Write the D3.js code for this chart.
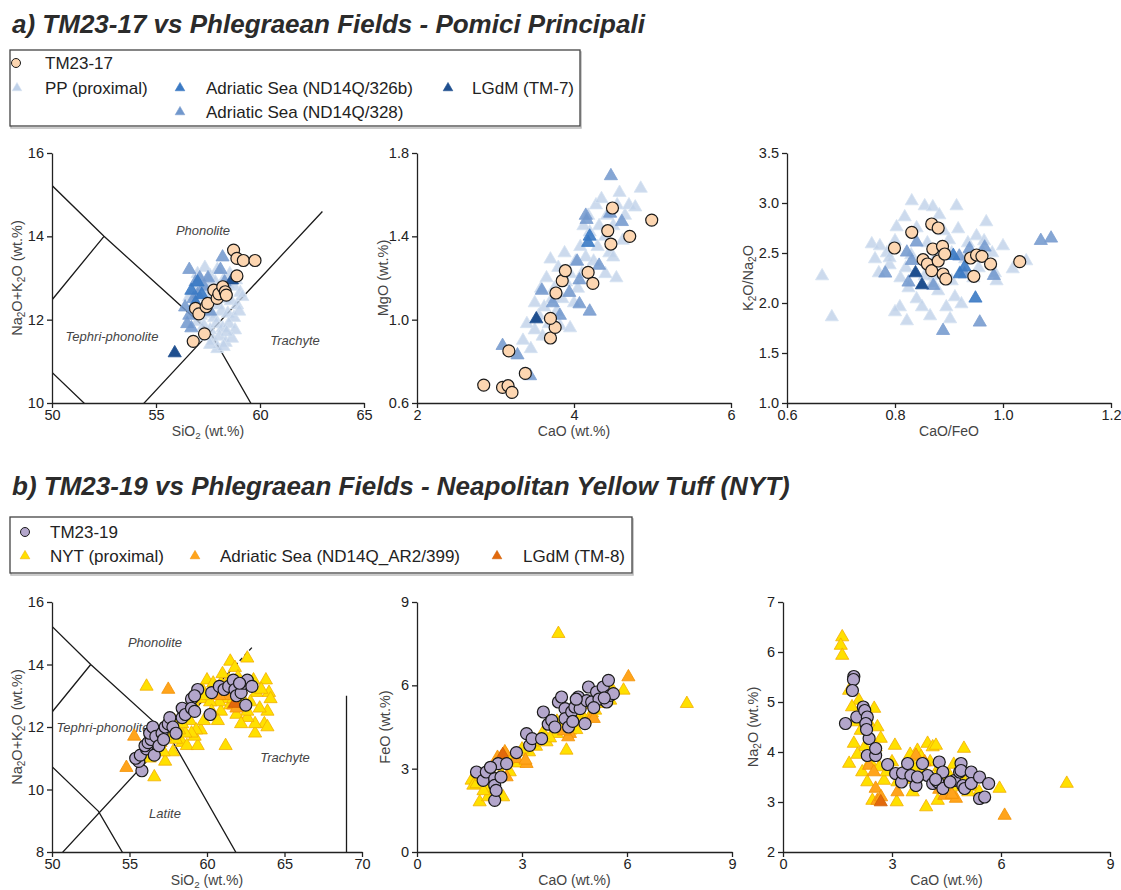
<!DOCTYPE html>
<html>
<head>
<meta charset="utf-8">
<script src="https://cdn.jsdelivr.net/npm/d3@7"></script>
<style>
  body { margin: 0; background: #fff; }
  text { font-family: "Liberation Sans", Arial, sans-serif; }
</style>
</head>
<body>
<script>
// ---- data: panel a (TM23-17 vs Pomici Principali) ----
// [SiO2, Na2O+K2O]
const a1_TM2317 = [[58.73,13.67],[58.89,13.47],[59.2,13.42],[59.76,13.42],[58.89,13.05],[56.9,12.27],[57.06,12.14],[57.41,12.31],[57.49,12.39],[57.78,12.71],[57.94,12.51],[58.02,12.62],[58.21,12.79],[58.33,12.67],[58.38,12.59],[57.33,11.66],[56.79,11.48]];
const a1_PP = [[57.0,13.1],[57.35,13.25],[57.6,13.05],[57.95,13.2],[58.25,12.95],[58.55,13.1],[57.2,12.85],[57.5,12.75],[57.85,12.9],[58.1,12.75],[58.45,12.85],[58.75,12.8],[59.05,12.65],[56.8,12.7],[57.1,12.55],[57.45,12.6],[57.7,12.45],[58.0,12.35],[58.3,12.5],[58.6,12.45],[58.9,12.35],[59.15,12.55],[56.9,12.4],[57.25,12.25],[57.55,12.15],[57.8,12.05],[58.15,12.2],[58.45,12.15],[58.75,12.05],[59.0,12.2],[57.0,11.95],[57.3,11.85],[57.6,11.75],[57.9,11.9],[58.2,11.8],[58.5,11.9],[58.8,11.75],[57.4,11.6],[57.75,11.5],[58.05,11.6],[58.35,11.45],[58.65,11.55],[57.95,11.3],[58.25,11.35],[57.6,11.4],[58.85,12.95],[56.6,12.55],[57.55,12.95],[58.4,11.7],[57.15,12.1]];
const a1_AS328 = [[56.6,13.2],[56.9,12.9],[57.1,13.0],[57.3,12.8],[57.5,13.0],[58.2,13.5],[58.1,13.2],[56.4,12.3],[56.5,11.9],[56.7,11.8],[56.8,12.5],[57.0,12.6],[57.6,12.2],[58.3,12.9],[56.6,12.1]];
const a1_AS326b = [[56.7,12.7],[57.2,12.6],[57.0,12.9],[56.9,12.4]];
const a1_TM7 = [[55.9,11.2],[58.65,12.95]];

// [CaO, MgO]
const a2_TM2317 = [[2.85,0.686],[3.09,0.675],[3.16,0.683],[3.21,0.651],[3.17,0.85],[3.38,0.742],[3.70,0.912],[3.76,0.963],[3.70,1.006],[3.77,1.128],[3.85,1.187],[3.89,1.235],[4.18,1.227],[4.24,1.174],[4.47,1.363],[4.43,1.427],[4.49,1.536],[4.71,1.40],[4.99,1.478]];
const a2_PP = [[3.35,0.90],[3.45,0.86],[3.50,0.95],[3.40,0.98],[3.55,1.02],[3.60,0.92],[3.62,1.06],[3.68,0.98],[3.72,1.10],[3.58,1.15],[3.65,1.20],[3.70,1.29],[3.78,1.04],[3.82,0.97],[3.95,0.96],[3.85,1.10],[3.90,1.18],[3.80,1.25],[3.88,1.32],[3.95,1.22],[4.00,1.08],[4.05,1.15],[4.02,1.28],[4.10,1.22],[4.08,1.35],[4.15,1.30],[4.20,1.42],[4.18,1.50],[4.25,1.28],[4.30,1.35],[4.32,1.45],[4.28,1.55],[4.35,1.58],[4.40,1.40],[4.45,1.32],[4.42,1.50],[4.50,1.45],[4.55,1.55],[4.58,1.61],[4.62,1.38],[4.65,1.50],[4.70,1.55],[4.78,1.54],[4.85,1.63],[4.54,1.20],[4.40,1.22],[4.50,1.30],[3.50,1.08],[3.75,1.15],[4.12,1.45]];
const a2_AS328 = [[3.09,0.875],[3.28,0.83],[3.44,0.73],[3.59,1.14],[3.73,1.08],[3.94,1.13],[4.04,1.28],[4.07,1.19],[4.15,1.50],[4.16,1.48],[4.20,1.04],[4.32,1.26],[4.47,1.69],[4.61,1.47],[4.46,1.51],[4.07,1.075],[3.82,1.02]];
const a2_AS326b = [[4.20,1.40],[4.18,1.37]];
const a2_TM7 = [[3.52,1.003]];

// [CaO/FeO, K2O/Na2O]
const a3_TM2317 = [[0.799,2.55],[0.831,2.707],[0.868,2.79],[0.880,2.75],[0.852,2.433],[0.86,2.39],[0.868,2.323],[0.87,2.54],[0.88,2.42],[0.888,2.567],[0.892,2.49],[0.889,2.29],[0.894,2.24],[0.94,2.45],[0.951,2.48],[0.961,2.467],[0.946,2.267],[0.977,2.39],[1.031,2.413]];
const a3_PP = [[0.665,2.27],[0.683,1.86],[0.757,2.59],[0.772,2.57],[0.763,2.44],[0.785,2.50],[0.79,2.38],[0.80,2.62],[0.803,2.76],[0.818,2.86],[0.831,3.02],[0.855,2.97],[0.870,2.96],[0.882,2.88],[0.914,2.97],[0.917,2.74],[0.951,2.67],[0.969,2.81],[0.965,2.62],[1.000,2.57],[1.043,2.42],[1.018,2.34],[0.988,2.22],[0.809,1.96],[0.822,1.82],[0.865,1.87],[0.895,1.96],[0.902,1.84],[0.911,2.06],[0.923,1.99],[0.840,2.04],[0.855,2.27],[0.92,2.30],[0.82,2.35],[0.86,2.60],[0.90,2.63],[0.935,2.60],[0.81,2.25],[0.79,2.45],[0.87,2.27],[0.88,2.12],[0.93,2.44],[0.955,2.35],[0.98,2.50],[0.84,2.75],[0.89,2.72],[0.83,2.48],[0.875,2.45],[0.905,2.50],[0.945,2.25],[0.96,2.52],[0.985,2.30],[0.80,1.91],[0.85,1.96],[0.87,2.20],[0.77,2.30],[0.825,2.15],[0.905,2.22]];
const a3_AS328 = [[0.782,2.297],[0.822,2.507],[0.84,2.607],[0.831,2.423],[0.825,2.207],[0.871,2.173],[0.889,1.723],[0.919,2.467],[0.938,2.54],[0.957,1.807],[0.983,2.273],[1.07,2.623],[1.089,2.647],[0.929,2.29],[0.966,2.557]];
const a3_AS326b = [[0.908,2.473],[0.92,2.29],[0.929,2.357],[0.949,2.047]];
const a3_TM7 = [[0.838,2.30],[0.850,2.18]];

// ---- data: panel b (TM23-19 vs NYT) ----
const b1_TM2319 = [[55.8,10.6],[55.6,10.9],[55.4,11.0],[55.7,11.1],[56.1,11.3],[56.6,11.1],[56.0,11.4],[56.2,11.5],[56.4,11.6],[56.3,11.8],[56.5,12.0],[56.7,11.7],[56.9,11.4],[57.1,11.8],[57.2,11.6],[57.3,12.0],[57.5,12.1],[57.6,12.3],[57.8,12.0],[58.0,11.8],[58.4,12.3],[58.4,12.6],[58.6,12.4],[59.0,12.9],[59.0,12.6],[59.2,12.5],[59.4,13.2],[59.2,13.0],[60.2,12.4],[60.3,13.1],[60.8,13.3],[61.1,13.2],[61.4,13.3],[61.7,13.5],[61.8,13.2],[61.9,13.0],[62.2,13.1],[62.4,13.4],[62.6,13.5],[62.9,13.3],[62.5,12.7],[62.1,13.4]];
const b1_NYT = [[56.6,10.4],[56.1,13.3],[57.3,10.9],[57.8,11.2],[58.4,11.5],[58.7,11.4],[59.4,11.4],[59.2,11.7],[59.6,11.9],[59.8,12.2],[59.7,13.2],[60.0,13.5],[60.4,13.4],[60.9,13.4],[61.5,14.1],[61.8,13.9],[62.6,14.2],[63.0,13.5],[63.2,13.1],[63.8,13.5],[64.0,13.1],[64.1,12.9],[63.9,12.5],[63.7,12.1],[63.9,12.0],[63.1,11.8],[63.1,12.1],[62.6,12.3],[62.6,12.5],[61.9,12.4],[61.5,12.7],[61.1,12.9],[60.9,12.5],[60.7,12.2],[61.2,11.4],[60.4,13.1],[60.8,12.8],[62.3,12.9],[59.6,12.9],[58.9,12.2],[59.3,11.9],[59.0,11.8],[58.6,11.8],[58.2,11.9],[57.9,12.2],[58.4,12.1],[57.5,11.7],[57.0,11.5],[56.8,11.2],[56.3,11.0],[57.2,11.2],[58.0,11.6],[58.8,12.5],[60.2,12.8],[61.4,13.5],[62.0,13.6],[62.8,12.8],[63.4,12.6],[62.2,12.1],[60.3,12.5],[59.9,13.0],[61.7,12.9],[63.5,13.2],[59.1,12.8],[61.0,13.7]];
const b1_AS399 = [[54.8,10.7],[55.3,11.7],[57.5,13.2],[61.7,12.7],[61.9,12.6],[61.4,13.0],[60.8,13.0],[62.2,13.2]];
const b1_TM8 = [[61.8,12.75]];

// [CaO, FeO]
const b2_TM2319 = [[1.70,2.88],[1.89,2.58],[1.98,2.88],[2.22,2.64],[2.22,2.40],[2.22,1.86],[2.32,3.18],[2.56,3.18],[2.40,2.70],[2.26,2.22],[2.10,3.05],[2.84,3.58],[3.13,4.26],[3.22,3.84],[3.29,4.08],[3.56,4.08],[3.61,5.04],[3.75,4.60],[3.85,4.74],[3.94,4.50],[4.04,5.40],[4.13,5.58],[4.23,5.16],[4.23,4.80],[4.33,4.50],[4.42,5.05],[4.51,5.22],[4.61,5.58],[4.66,5.16],[4.80,4.62],[4.85,5.45],[4.90,5.94],[4.99,5.40],[5.13,5.76],[5.20,5.50],[5.32,5.94],[5.47,6.18],[5.42,5.40],[5.52,5.64],[5.61,5.70],[5.35,5.55],[5.05,5.20],[4.45,4.70],[4.55,5.50]];
const b2_NYT = [[4.04,7.86],[7.71,5.34],[5.90,5.82],[4.27,3.66],[1.79,1.80],[2.03,1.98],[2.46,1.98],[1.56,2.58],[1.61,2.40],[1.70,2.45],[1.85,2.70],[2.10,2.90],[2.30,3.10],[2.65,2.88],[2.84,3.30],[3.08,3.24],[3.20,3.60],[3.40,3.80],[3.51,4.02],[3.70,3.96],[3.99,4.26],[4.10,4.50],[4.37,4.38],[4.50,4.70],[4.70,4.90],[4.94,4.86],[5.09,5.10],[5.32,5.34],[5.52,5.46],[5.60,5.80],[5.40,5.65],[5.20,5.50],[4.80,5.30],[4.60,5.00],[4.40,4.95],[4.20,4.85],[3.90,4.55],[3.60,4.30],[3.00,3.70],[2.70,3.40],[2.50,3.20],[2.40,2.80],[2.20,2.60],[2.00,2.30],[1.90,2.20],[3.30,3.95],[4.00,4.70],[4.80,4.75],[5.00,5.00],[5.50,5.90],[2.55,3.50],[2.90,3.20],[3.80,4.10],[4.55,4.40]];
const b2_AS399 = [[6.04,6.30],[2.41,3.42],[2.51,3.60],[4.37,4.26],[4.32,4.14],[2.84,3.36],[3.13,3.18],[4.99,4.86],[5.05,4.80],[2.56,2.70],[3.10,3.30],[4.20,4.35],[2.30,3.40]];
const b2_TM8 = [[2.45,3.50]];

// [CaO, Na2O]
const b3_TM2319 = [[1.95,5.51],[1.94,5.45],[1.91,5.23],[1.72,4.57],[2.03,4.70],[2.21,4.90],[2.25,4.83],[2.32,4.70],[2.28,4.57],[2.37,4.27],[2.32,3.93],[2.55,3.93],[2.55,4.07],[2.30,4.45],[2.88,3.75],[3.10,3.57],[3.26,3.40],[3.29,3.58],[3.43,3.77],[3.52,3.53],[3.66,3.33],[3.84,3.77],[3.98,3.53],[4.12,3.37],[4.26,3.40],[4.30,3.80],[4.40,3.60],[4.40,3.27],[4.72,3.43],[4.86,3.60],[4.90,3.77],[4.90,3.63],[4.95,3.33],[5.00,3.27],[5.18,3.60],[5.18,3.37],[5.41,3.50],[5.41,3.07],[5.55,3.10],[5.66,3.37],[4.60,3.40],[4.20,3.45],[3.70,3.50]];
const b3_NYT = [[1.63,6.30],[1.59,6.13],[1.63,5.93],[1.82,5.23],[1.82,3.77],[1.95,4.17],[2.09,5.03],[2.14,4.43],[2.18,3.60],[2.32,3.40],[2.46,3.03],[2.51,4.87],[2.60,4.50],[2.69,4.27],[2.78,3.43],[3.08,4.13],[3.13,3.00],[3.15,3.40],[3.57,3.20],[3.70,4.03],[3.94,2.90],[3.98,4.17],[4.12,4.10],[4.21,4.13],[4.26,3.03],[4.58,3.53],[4.98,4.07],[5.96,3.27],[7.81,3.37],[2.00,4.60],[2.25,4.10],[2.40,3.80],[2.55,4.10],[2.65,3.70],[2.85,3.60],[3.00,3.80],[3.30,3.60],[3.45,3.45],[3.60,3.70],[3.80,3.90],[3.90,3.60],[4.05,3.80],[4.30,3.70],[4.45,3.40],[4.65,3.30],[4.80,3.50],[5.00,3.40],[5.20,3.30],[5.40,3.20],[1.90,4.90],[2.05,3.95],[2.35,4.60],[3.50,3.95],[4.20,3.50],[4.70,3.75],[5.10,3.20]];
const b3_AS399 = [[6.10,2.73],[2.55,3.27],[2.60,3.03],[3.15,3.20],[2.37,3.73],[4.44,3.13],[4.76,3.07],[3.66,3.93],[2.70,3.10],[4.65,3.15],[3.90,3.80],[4.30,3.25],[2.50,3.60]];
const b3_TM8 = [[2.69,3.00]];

// TAS classification lines (Le Bas et al. 1986)
const tasLines = [
  [[48.4,16],[52.5,14],[57.6,11.7],[63,7]],
  [[52.5,14],[48.4,11.5],[53,9.3],[57,5.9]],
  [[69,8],[69,13]]
];

// ---- styles ----
const sty = {
  TM2317: {fill:"#fdd6b1", stroke:"#1a1a1a"},
  PP:     {fill:"#bfd1e9", stroke:"#d6e2f1", op:0.8},
  AS326b: {fill:"#3b7ac4", stroke:"#3b7ac4", op:0.9},
  AS328:  {fill:"#7097cc", stroke:"#7f9fd0", op:0.85},
  TM7:    {fill:"#1f4f8f", stroke:"#1f4f8f"},
  TM2319: {fill:"#b3a6cb", stroke:"#1a1a1a"},
  NYT:    {fill:"#ffe000", stroke:"#f3ad00"},
  AS399:  {fill:"#ffa41c", stroke:"#f39000"},
  TM8:    {fill:"#e2690c", stroke:"#d05e00"}
};

const svg = d3.select("body").append("svg")
  .attr("width", 1121).attr("height", 890);

const tri = d3.symbol().type(d3.symbolTriangle);

function richText(sel, parts, fs) {
  let shift = 0;
  parts.forEach(p => {
    const t = sel.append("tspan").text(p[0]);
    if (p[1]) { t.attr("font-size", fs * 0.7).attr("dy", fs * 0.22 - shift); shift = fs * 0.22; }
    else { if (shift) t.attr("dy", -shift); shift = 0; }
  });
}

const panels = [
  {id:"a1", px:[52,364], py:[403,153], xd:[50,65], yd:[10,16], xt:[50,55,60,65], yt:[10,12,14,16], fmt:d3.format("d"), yfmt:d3.format("d"),
   xl:[["SiO"],["2",1],[" (wt.%)"]], yl:[["Na"],["2",1],["O+K"],["2",1],["O (wt.%)"]], ylx:22, tas:true, tasEnd:63,
   labels:[["Phonolite",203,230],["Tephri-phonolite",112,336],["Trachyte",295,340]],
   layers:[[a1_PP,"PP"],[a1_AS328,"AS328"],[a1_AS326b,"AS326b"],[a1_TM7,"TM7"],[a1_TM2317,"TM2317",1]]},
  {id:"a2", px:[417,731], py:[403,153], xd:[2,6], yd:[0.6,1.8], xt:[2,4,6], yt:[0.6,1.0,1.4,1.8], fmt:d3.format("d"), yfmt:d3.format(".1f"),
   xl:[["CaO (wt.%)"]], yl:[["MgO (wt.%)"]], ylx:388,
   layers:[[a2_PP,"PP"],[a2_AS328,"AS328"],[a2_AS326b,"AS326b"],[a2_TM7,"TM7"],[a2_TM2317,"TM2317",1]]},
  {id:"a3", px:[787,1111], py:[403,153], xd:[0.6,1.2], yd:[1.0,3.5], xt:[0.6,0.8,1.0,1.2], yt:[1.0,1.5,2.0,2.5,3.0,3.5], fmt:d3.format(".1f"), yfmt:d3.format(".1f"),
   xl:[["CaO/FeO"]], yl:[["K"],["2",1],["O/Na"],["2",1],["O"]], ylx:753,
   layers:[[a3_PP,"PP"],[a3_AS328,"AS328"],[a3_AS326b,"AS326b"],[a3_TM7,"TM7"],[a3_TM2317,"TM2317",1]]},
  {id:"b1", px:[52,362], py:[852,602], xd:[50,70], yd:[8,16], xt:[50,55,60,65,70], yt:[8,10,12,14,16], fmt:d3.format("d"), yfmt:d3.format("d"),
   xl:[["SiO"],["2",1],[" (wt.%)"]], yl:[["Na"],["2",1],["O+K"],["2",1],["O (wt.%)"]], ylx:22, tas:true, tasEnd:61.8, tasDash:63,
   labels:[["Phonolite",155,642],["Tephri-phonolite",103,727],["Trachyte",285,757],["Latite",165,813]],
   layers:[[b1_NYT,"NYT"],[b1_AS399,"AS399"],[b1_TM8,"TM8"],[b1_TM2319,"TM2319",1]]},
  {id:"b2", px:[417,732], py:[852,602], xd:[0,9], yd:[0,9], xt:[0,3,6,9], yt:[0,3,6,9], fmt:d3.format("d"), yfmt:d3.format("d"),
   xl:[["CaO (wt.%)"]], yl:[["FeO (wt.%)"]], ylx:390,
   layers:[[b2_NYT,"NYT"],[b2_AS399,"AS399"],[b2_TM8,"TM8"],[b2_TM2319,"TM2319",1]]},
  {id:"b3", px:[783,1110], py:[852,602], xd:[0,9], yd:[2,7], xt:[0,3,6,9], yt:[2,3,4,5,6,7], fmt:d3.format("d"), yfmt:d3.format("d"),
   xl:[["CaO (wt.%)"]], yl:[["Na"],["2",1],["O (wt.%)"]], ylx:758,
   layers:[[b3_NYT,"NYT"],[b3_AS399,"AS399"],[b3_TM8,"TM8"],[b3_TM2319,"TM2319",1]]}
];

panels.forEach(p => {
  const x = d3.scaleLinear().domain(p.xd).range(p.px);
  const y = d3.scaleLinear().domain(p.yd).range(p.py);
  const g = svg.append("g");

  // clip for classification lines
  svg.append("clipPath").attr("id", "clip-" + p.id).append("rect")
    .attr("x", p.px[0]).attr("y", p.py[1]).attr("width", p.px[1] - p.px[0]).attr("height", p.py[0] - p.py[1]);

  if (p.tas) {
    const lg = g.append("g").attr("clip-path", "url(#clip-" + p.id + ")");
    const line = d3.line().x(d => x(d[0])).y(d => y(d[1]));
    const slope = 4.4 / 8.2;
    const alk = [[49.4,7.3],[57.6,11.7],[p.tasEnd, 11.7 + (p.tasEnd - 57.6) * slope]];
    tasLines.concat([alk]).forEach(l => {
      lg.append("path").attr("d", line(l)).attr("fill", "none").attr("stroke", "#1a1a1a").attr("stroke-width", 1.3);
    });
    if (p.tasDash) {
      const d0 = alk[2], d1 = [p.tasDash, 11.7 + (p.tasDash - 57.6) * slope];
      lg.append("path").attr("d", line([d0, d1])).attr("fill", "none").attr("stroke", "#1a1a1a")
        .attr("stroke-width", 1.3).attr("stroke-dasharray", "4,3");
    }
    p.labels.forEach(t => {
      g.append("text").attr("x", t[1]).attr("y", t[2]).attr("text-anchor", "middle")
        .attr("dominant-baseline", "central").attr("font-style", "italic").attr("font-size", 13)
        .attr("fill", "#444").text(t[0]);
    });
  }

  // axes
  const ax = g.append("g").attr("transform", `translate(0,${p.py[0]})`)
    .call(d3.axisBottom(x).tickValues(p.xt).tickFormat(p.fmt).tickSize(5).tickSizeOuter(0).tickPadding(2));
  const ay = g.append("g").attr("transform", `translate(${p.px[0]},0)`)
    .call(d3.axisLeft(y).tickValues(p.yt).tickFormat(p.yfmt).tickSize(5).tickSizeOuter(0).tickPadding(3));
  [ax, ay].forEach(a => {
    a.selectAll("path,line").attr("stroke", "#222").attr("stroke-width", 1.3);
    a.selectAll("text").attr("font-size", 14.5).attr("fill", "#222")
      .attr("font-family", "'Liberation Sans', Arial, sans-serif");
  });

  // axis titles
  const xt = g.append("text").attr("x", (p.px[0] + p.px[1]) / 2).attr("y", p.py[0] + 33)
    .attr("text-anchor", "middle").attr("font-size", 14).attr("fill", "#444");
  richText(xt, p.xl, 14);
  const yc = (p.py[0] + p.py[1]) / 2;
  const yt = g.append("text").attr("transform", `translate(${p.ylx},${yc}) rotate(-90)`)
    .attr("text-anchor", "middle").attr("font-size", 14.5).attr("fill", "#444");
  richText(yt, p.yl, 14.5);

  // marks
  p.layers.forEach(([data, key, isCircle]) => {
    const s = sty[key];
    const sel = g.append("g").selectAll(isCircle ? "circle" : "path").data(data).join(isCircle ? "circle" : "path");
    if (isCircle) {
      sel.attr("cx", d => x(d[0])).attr("cy", d => y(d[1])).attr("r", 6)
        .attr("fill", s.fill).attr("stroke", s.stroke).attr("stroke-width", 1.2);
    } else {
      sel.attr("d", tri.size(75)()).attr("transform", d => `translate(${x(d[0])},${y(d[1])})`)
        .attr("fill", s.fill).attr("fill-opacity", s.op || 1)
        .attr("stroke", s.stroke).attr("stroke-width", 0.8);
    }
  });
});

// ---- titles ----
svg.append("text").attr("x", 12).attr("y", 33).attr("font-size", 26).attr("font-weight", "bold")
  .attr("font-style", "italic").attr("fill", "#2b2b2b").text("a) TM23-17 vs Phlegraean Fields - Pomici Principali");
svg.append("text").attr("x", 12).attr("y", 495).attr("font-size", 26).attr("font-weight", "bold")
  .attr("font-style", "italic").attr("fill", "#2b2b2b").text("b) TM23-19 vs Phlegraean Fields - Neapolitan Yellow Tuff (NYT)");

// ---- legends ----
function legend(box, items) {
  const lg = svg.append("g");
  lg.append("rect").attr("x", box[0] + 1).attr("y", box[1] + 2).attr("width", box[2]).attr("height", box[3])
    .attr("fill", "none").attr("stroke", "#bbb").attr("stroke-width", 1.5);
  lg.append("rect").attr("x", box[0]).attr("y", box[1]).attr("width", box[2]).attr("height", box[3])
    .attr("fill", "#fff").attr("stroke", "#444").attr("stroke-width", 1.3);
  items.forEach(it => {
    const s = sty[it.key];
    if (it.circle) {
      lg.append("circle").attr("cx", it.mx).attr("cy", it.y).attr("r", 4.5)
        .attr("fill", s.fill).attr("stroke", s.stroke).attr("stroke-width", 1);
    } else {
      lg.append("path").attr("d", tri.size(40)()).attr("transform", `translate(${it.mx},${it.y})`)
        .attr("fill", s.fill).attr("stroke", s.stroke).attr("stroke-width", 0.6);
    }
    lg.append("text").attr("x", it.tx).attr("y", it.y).attr("dominant-baseline", "central")
      .attr("font-size", 17).attr("fill", "#222").text(it.label);
  });
}

legend([10, 50, 570, 76], [
  {key:"TM2317", circle:1, mx:16, tx:45, y:63, label:"TM23-17"},
  {key:"PP", mx:17, tx:45, y:88, label:"PP (proximal)"},
  {key:"AS326b", mx:180, tx:206, y:88, label:"Adriatic Sea (ND14Q/326b)"},
  {key:"TM7", mx:448, tx:472, y:88, label:"LGdM (TM-7)"},
  {key:"AS328", mx:180, tx:206, y:112, label:"Adriatic Sea (ND14Q/328)"}
]);
legend([10, 517, 622, 56], [
  {key:"TM2319", circle:1, mx:25, tx:50, y:532, label:"TM23-19"},
  {key:"NYT", mx:25, tx:50, y:556, label:"NYT (proximal)"},
  {key:"AS399", mx:195, tx:220, y:556, label:"Adriatic Sea (ND14Q_AR2/399)"},
  {key:"TM8", mx:497, tx:523, y:556, label:"LGdM (TM-8)"}
]);
</script>
</body>
</html>
